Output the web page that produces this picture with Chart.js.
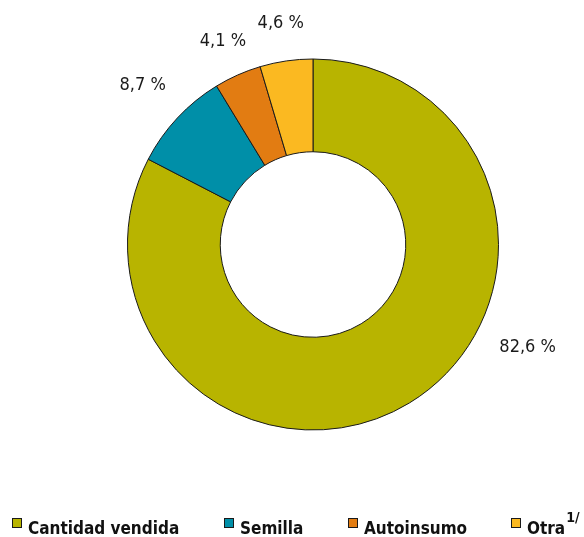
<!DOCTYPE html>
<html><head><meta charset="utf-8">
<script src="https://cdn.jsdelivr.net/npm/chart.js@4/dist/chart.umd.min.js"></script>
<style>html,body{margin:0;padding:0;background:#fff}#wrap{width:584px;height:537px;position:relative}</style>
</head><body><div id="wrap"><canvas id="c" width="584" height="537"></canvas></div>
<script>
const categories = ['Cantidad vendida', 'Semilla', 'Autoinsumo', 'Otra'];
const shares = [82.6, 8.7, 4.1, 4.6];
const valueLabels = ['82,6 %', '8,7 %', '4,1 %', '4,6 %'];
const legendSuperscripts = ['', '', '', '1/'];
const colors = ['#b8b400', '#008fa8', '#e27c12', '#fbb921'];

const FONT = '"DejaVu Sans Condensed","Liberation Sans Narrow",sans-serif';

// label placement styles (angle override in degrees clockwise from top, distance from center)
const labelStyle = [
  {angle: 115.6, dist: 238},
  {angle: null, dist: 233},
  {angle: null, dist: 222},
  {angle: null, dist: 224}
];
const legendStyle = {y: 523, boxes: [12, 224, 348, 511], box: 10, gap: 6, size: 17};

const valueLabelPlugin = {
  id: 'valueLabels',
  afterDatasetsDraw(chart) {
    const ctx = chart.ctx;
    const meta = chart.getDatasetMeta(0);
    ctx.save();
    ctx.font = '18px ' + FONT;
    ctx.fillStyle = '#1a1a1a';
    ctx.textAlign = 'center';
    ctx.textBaseline = 'middle';
    meta.data.forEach((arc, i) => {
      const p = arc.getProps(['x', 'y', 'startAngle', 'endAngle'], true);
      let a = (p.startAngle + p.endAngle) / 2;
      const st = labelStyle[i];
      if (st.angle !== null) a = (st.angle - 90) * Math.PI / 180;
      const x = p.x + Math.cos(a) * st.dist;
      const y = p.y + Math.sin(a) * st.dist;
      ctx.fillText(valueLabels[i], x, y);
    });
    ctx.restore();
  }
};

const legendPlugin = {
  id: 'bottomLegend',
  afterDraw(chart) {
    const ctx = chart.ctx;
    const ds = chart.data.datasets[0];
    ctx.save();
    chart.data.labels.forEach((lab, i) => {
      const bx = legendStyle.boxes[i];
      const s = legendStyle.box;
      ctx.fillStyle = ds.backgroundColor[i];
      ctx.fillRect(bx, legendStyle.y - s / 2, s, s);
      ctx.strokeStyle = '#1a1a1a';
      ctx.lineWidth = 1;
      ctx.strokeRect(bx + 0.5, legendStyle.y - s / 2 + 0.5, s - 1, s - 1);
      ctx.font = 'bold ' + legendStyle.size + 'px ' + FONT;
      ctx.fillStyle = '#111';
      ctx.textAlign = 'left';
      ctx.textBaseline = 'alphabetic';
      const tx = bx + s + legendStyle.gap;
      ctx.fillText(lab, tx, legendStyle.y + 11);
      if (legendSuperscripts[i]) {
        const w = ctx.measureText(lab).width;
        ctx.font = 'bold 14px ' + FONT;
        ctx.fillText(legendSuperscripts[i], tx + w + 1, legendStyle.y - 1);
      }
    });
    ctx.restore();
  }
};

new Chart(document.getElementById('c'), {
  type: 'doughnut',
  data: {
    labels: categories,
    datasets: [{
      data: shares,
      backgroundColor: colors,
      borderColor: '#1a1a1a',
      borderWidth: 1,
      hoverOffset: 0
    }]
  },
  options: {
    responsive: false,
    animation: false,
    cutout: '50%',
    rotation: 0,
    layout: {padding: {left: 127, right: 85, top: 58, bottom: 106}},
    plugins: {legend: {display: false}, tooltip: {enabled: false}}
  },
  plugins: [valueLabelPlugin, legendPlugin]
});
</script>
</body></html>
